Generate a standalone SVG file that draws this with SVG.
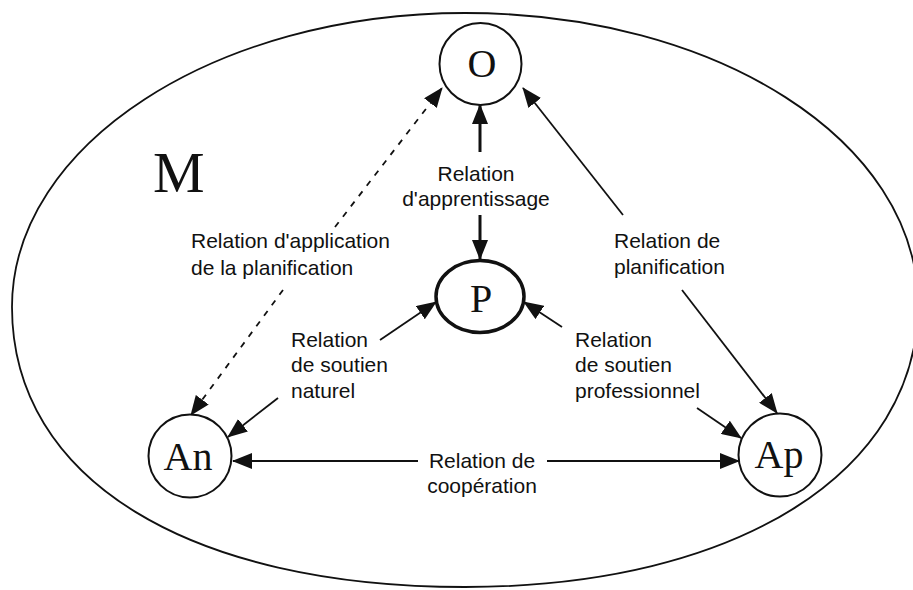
<svg xmlns="http://www.w3.org/2000/svg" width="913" height="590" viewBox="0 0 913 590">
<style>
.bg{fill:#fff}
.frame{fill:none;stroke:#111;stroke-width:1.8}
.node{fill:#fff;stroke:#111;stroke-width:2}
.nodeP{fill:#fff;stroke:#111;stroke-width:3.5}
.letter{font-family:"Liberation Serif","Times New Roman",serif;font-size:40px;fill:#111;text-anchor:middle}
.big{font-family:"Liberation Serif","Times New Roman",serif;font-size:58px;fill:#111}
.lbl{font-family:"Liberation Sans",Arial,sans-serif;font-size:21px;fill:#111}
.mid{text-anchor:middle}
.ln{fill:none;stroke:#111;stroke-width:1.8;marker-end:url(#ah)}
.thick{stroke-width:3}
.dash{stroke-dasharray:6 7}
</style>
<defs>
<marker id="ah" viewBox="0 0 20 16" markerWidth="20" markerHeight="16" refX="19" refY="8" orient="auto" markerUnits="userSpaceOnUse">
<path d="M0,0 L20,8 L0,16 Z" fill="#111"/>
</marker>
</defs>
<rect class="bg" x="0" y="0" width="913" height="590"/>
<g id="M">
<path class="frame" d="M12,307 C12,145 215,13 465,13 C715,13 918,140 918,305 C918,470 740,587 465,587 C190,587 12,480 12,307 Z"/>
<text class="big" x="153" y="192">M</text>
</g>
<g id="connectors">
<line class="ln thick" x1="480" y1="152" x2="480" y2="105"/>
<line class="ln thick" x1="480" y1="215" x2="480" y2="259"/>
<line class="ln dash" x1="335" y1="227" x2="442" y2="88"/>
<line class="ln dash" x1="283" y1="290" x2="191" y2="415"/>
<line class="ln" x1="623" y1="215" x2="523" y2="88"/>
<line class="ln" x1="682" y1="290" x2="777" y2="413"/>
<line class="ln" x1="380" y1="340" x2="436" y2="302"/>
<line class="ln" x1="278" y1="398" x2="228" y2="437"/>
<line class="ln" x1="562" y1="327" x2="524" y2="302"/>
<line class="ln" x1="697" y1="408" x2="741" y2="438"/>
<line class="ln" x1="418" y1="461" x2="233" y2="461"/>
<line class="ln" x1="547" y1="461" x2="739" y2="461"/>
</g>
<g id="labels">
<text class="lbl mid" x="476" y="181">Relation</text>
<text class="lbl mid" x="476" y="206">d'apprentissage</text>
<text class="lbl" x="191" y="248">Relation d'application</text>
<text class="lbl" x="191" y="275">de la planification</text>
<text class="lbl" x="614" y="248">Relation de</text>
<text class="lbl" x="614" y="274">planification</text>
<text class="lbl" x="291" y="347">Relation</text>
<text class="lbl" x="291" y="372">de soutien</text>
<text class="lbl" x="291" y="398">naturel</text>
<text class="lbl" x="575" y="347">Relation</text>
<text class="lbl" x="575" y="372">de soutien</text>
<text class="lbl" x="575" y="398">professionnel</text>
<text class="lbl mid" x="482" y="468">Relation de</text>
<text class="lbl mid" x="482" y="493">coopération</text>
</g>
<g id="O">
<circle class="node" cx="480.5" cy="64" r="41"/>
<text class="letter" x="482" y="77">O</text>
</g>
<g id="P">
<ellipse class="nodeP" cx="480" cy="296.5" rx="44" ry="36"/>
<text class="letter" x="481" y="312">P</text>
</g>
<g id="An">
<circle class="node" cx="190" cy="456" r="41.5"/>
<text class="letter" x="188" y="470">An</text>
</g>
<g id="Ap">
<circle class="node" cx="780" cy="455" r="41.5"/>
<text class="letter" x="779" y="468">Ap</text>
</g>
</svg>
